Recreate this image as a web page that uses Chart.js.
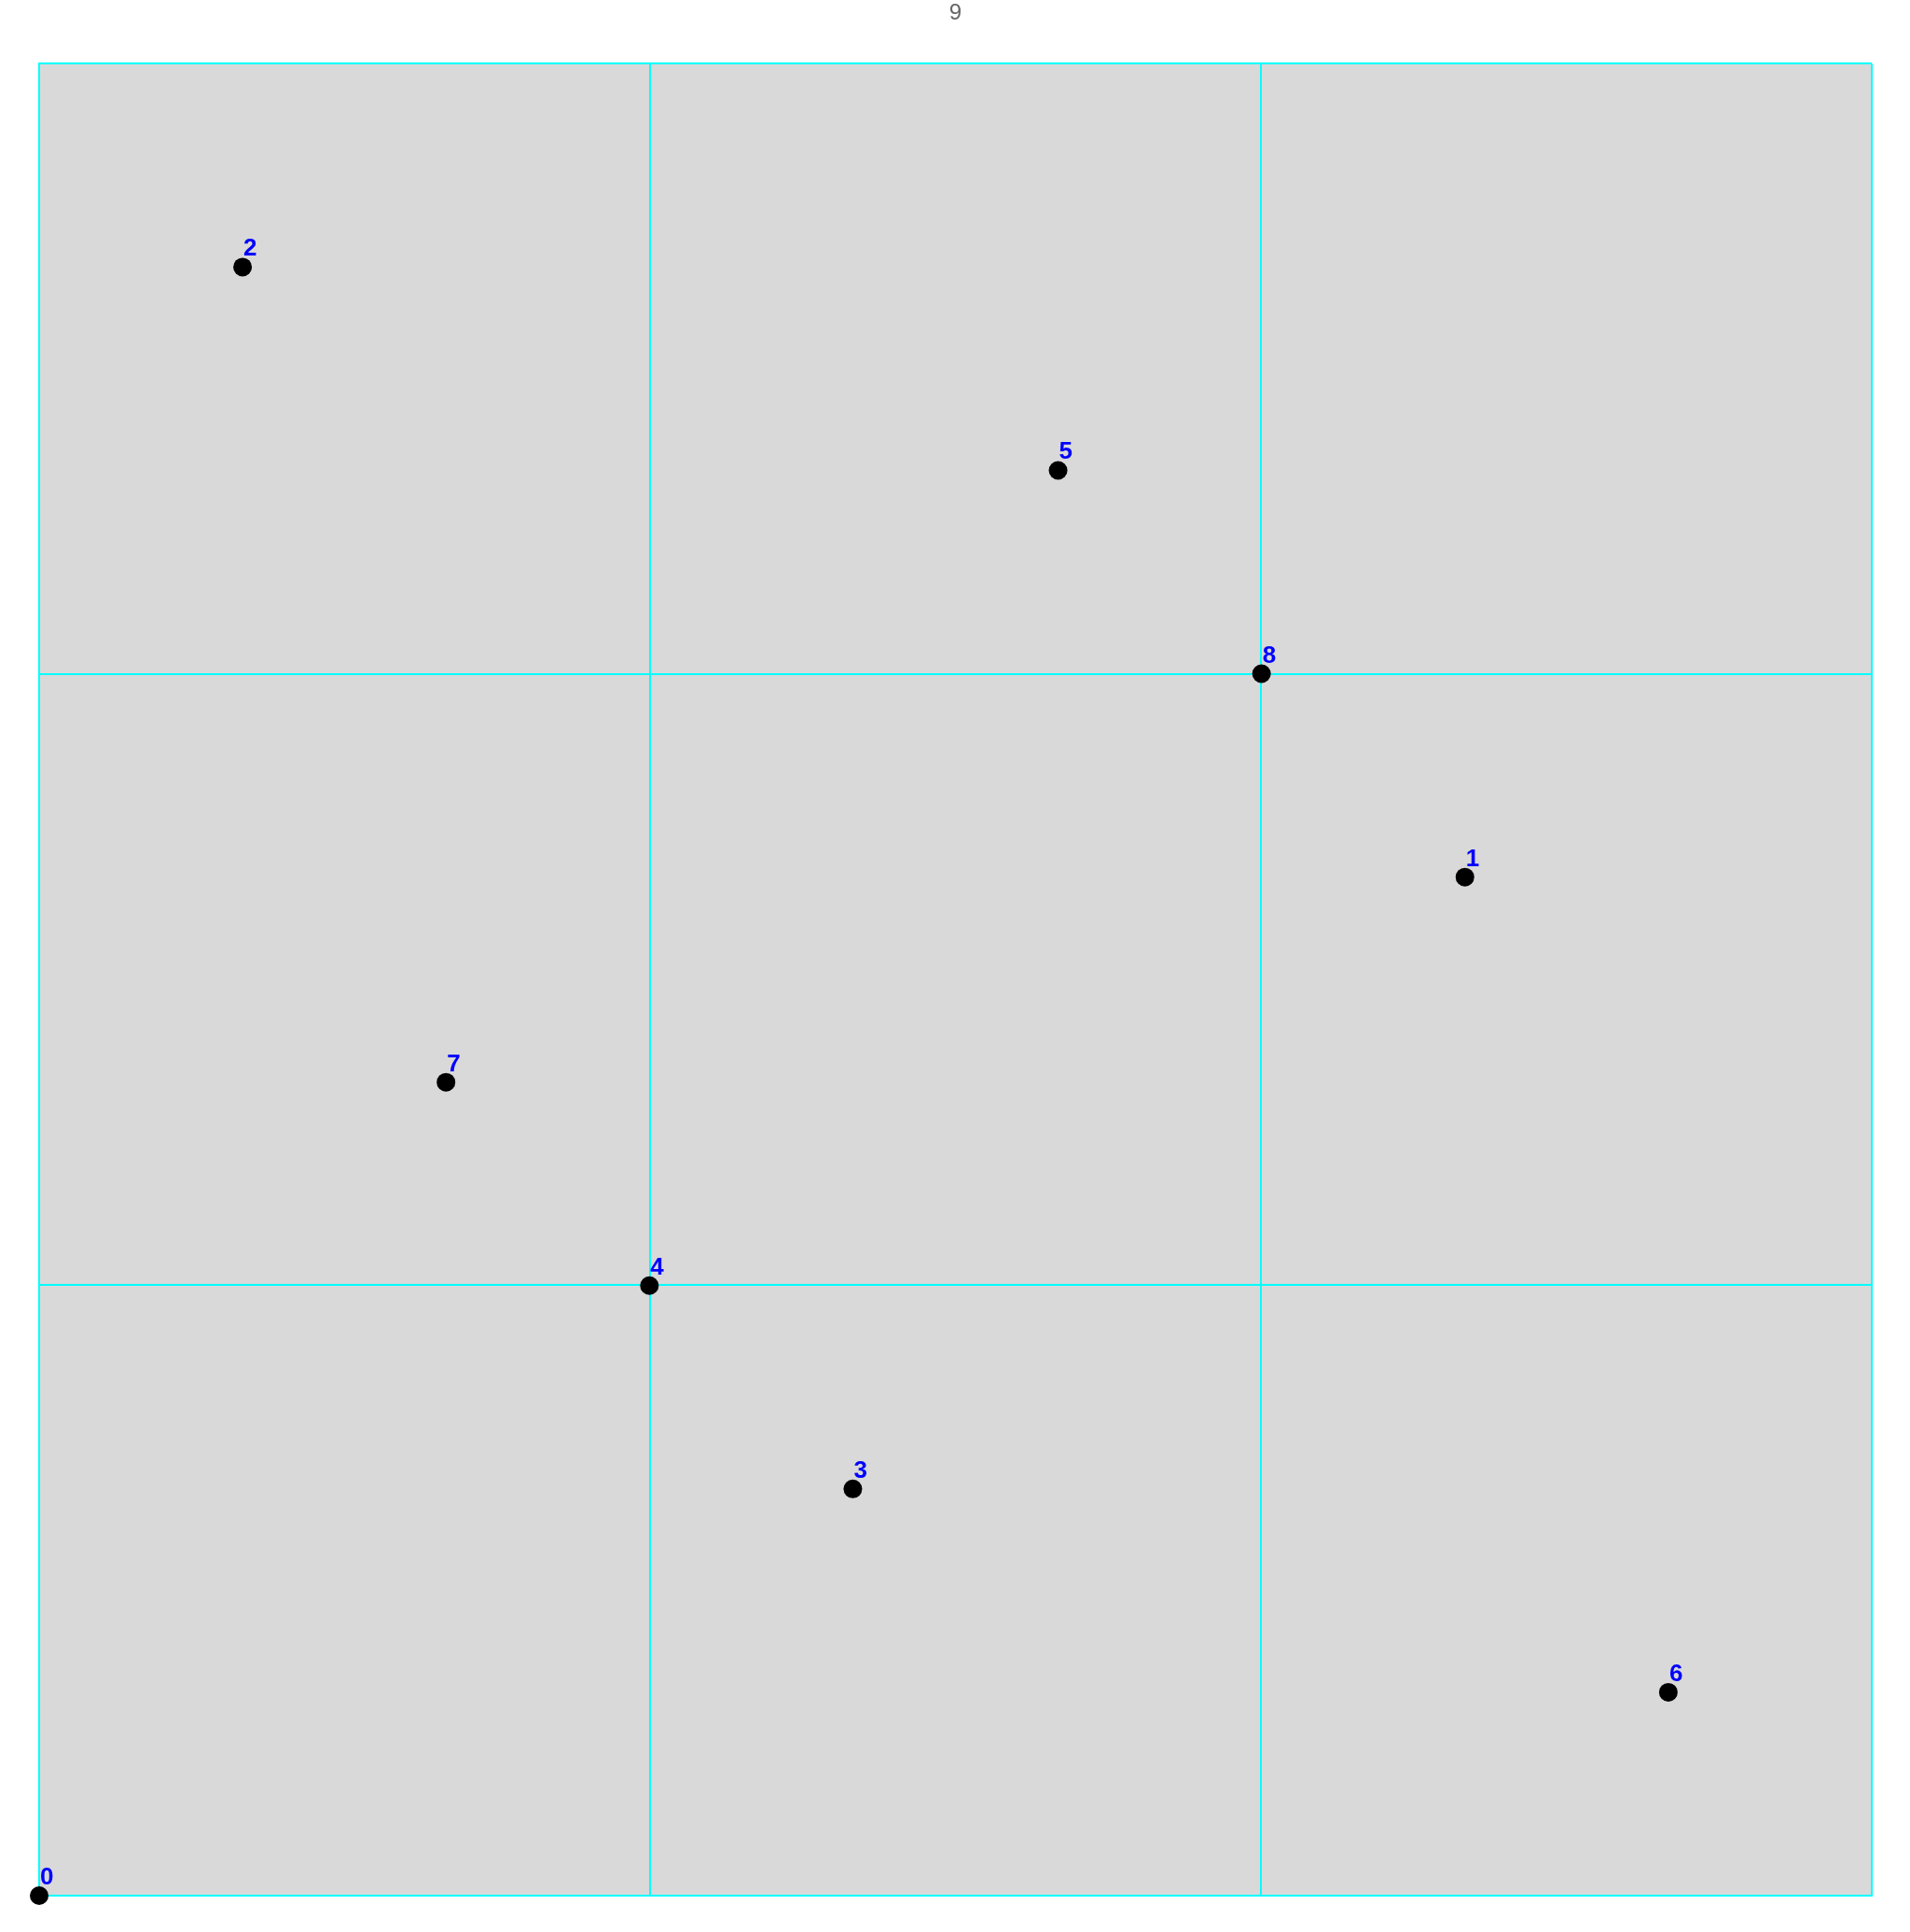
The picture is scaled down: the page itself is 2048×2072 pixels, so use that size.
<!DOCTYPE html>
<html>
<head>
<meta charset="utf-8">
<style>
  html, body { margin: 0; padding: 0; background: #ffffff; }
  #wrap { width: 2048px; height: 2072px; }
</style>
<script src="https://cdn.jsdelivr.net/npm/chart.js@4/dist/chart.umd.min.js"></script>
</head>
<body>
<div id="wrap"><canvas id="c" width="2048" height="2072"></canvas></div>
<script>
const titleText = "9";
const pointLabels = ["0", "1", "2", "3", "4", "5", "6", "7", "8"];
const xValues = [0, 0.778, 0.111, 0.444, 0.333, 0.556, 0.889, 0.222, 0.667];
const yValues = [0, 0.556, 0.889, 0.222, 0.333, 0.778, 0.111, 0.444, 0.667];
const gridTicks = [0, 1/3, 2/3, 1];

const points = xValues.map((x, i) => ({ x: x, y: yValues[i] }));

const bgPlugin = {
  id: 'plotBg',
  beforeDraw(chart) {
    const a = chart.chartArea, ctx = chart.ctx;
    ctx.save();
    ctx.fillStyle = '#d9d9d9';
    ctx.fillRect(a.left, a.top, a.right - a.left, a.bottom - a.top);
    ctx.restore();
  }
};

const labelPlugin = {
  id: 'pointLabels',
  afterDatasetsDraw(chart) {
    const ctx = chart.ctx;
    const meta = chart.getDatasetMeta(0);
    ctx.save();
    ctx.font = 'bold 26px "Liberation Sans", Arial, sans-serif';
    ctx.fillStyle = '#0000ff';
    ctx.textAlign = 'left';
    ctx.textBaseline = 'alphabetic';
    meta.data.forEach((el, i) => {
      ctx.fillText(pointLabels[i], el.x + 1, el.y - 12);
    });
    ctx.restore();
  }
};

const tickSetter = (scale) => {
  scale.ticks = gridTicks.map(v => ({ value: v }));
};

new Chart(document.getElementById('c'), {
  type: 'scatter',
  data: {
    datasets: [{
      data: points,
      backgroundColor: '#000000',
      borderColor: '#000000',
      pointRadius: 10,
      pointHoverRadius: 10,
      borderWidth: 0,
      clip: false
    }]
  },
  options: {
    responsive: false,
    animation: false,
    devicePixelRatio: 1,
    layout: { padding: { left: 42, right: 41, top: 0, bottom: 39 } },
    plugins: {
      legend: { display: false },
      tooltip: { enabled: false },
      title: {
        display: true,
        text: titleText,
        color: '#666666',
        font: { family: '"Liberation Sans", Arial, sans-serif', size: 24, weight: 'normal', lineHeight: 1.2 },
        padding: { top: 0, bottom: 39.5 }
      }
    },
    scales: {
      x: {
        type: 'linear', min: 0, max: 1,
        afterBuildTicks: tickSetter,
        ticks: { display: false },
        grid: { color: '#00ffff', lineWidth: 2, drawTicks: false },
        border: { color: '#00ffff', width: 2 }
      },
      y: {
        type: 'linear', min: 0, max: 1,
        afterBuildTicks: tickSetter,
        ticks: { display: false },
        grid: { color: '#00ffff', lineWidth: 2, drawTicks: false },
        border: { color: '#00ffff', width: 2 }
      }
    }
  },
  plugins: [bgPlugin, labelPlugin]
});
</script>
</body>
</html>
